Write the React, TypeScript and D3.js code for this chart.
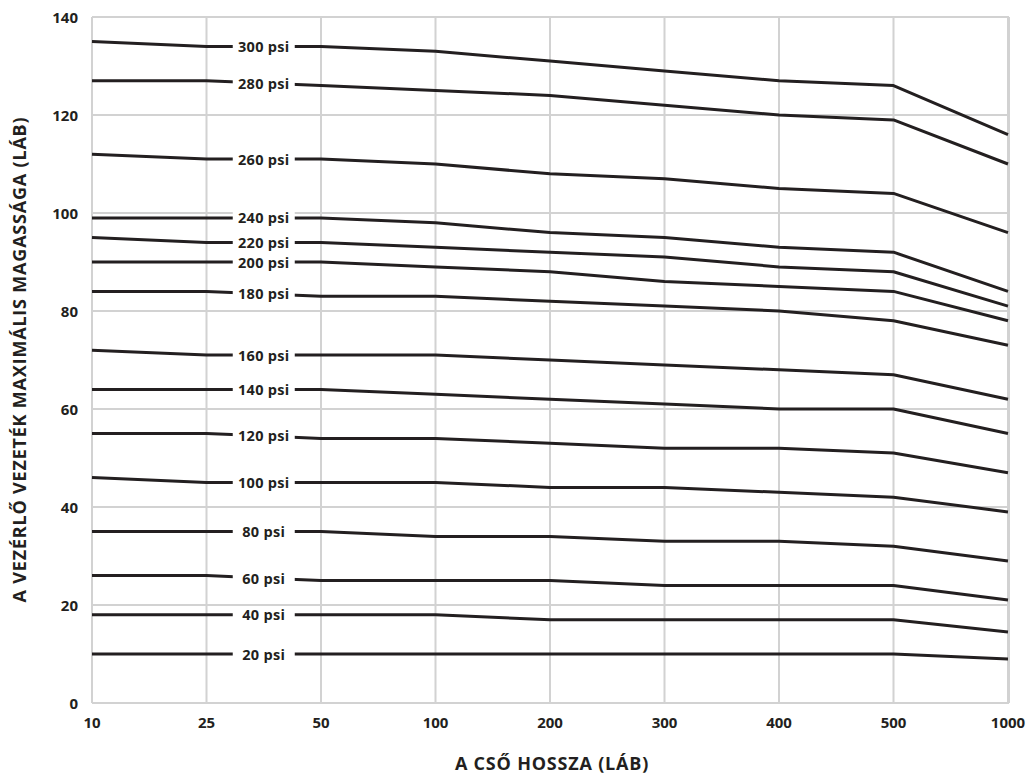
import React from "react";
import * as d3 from "d3";

const categories = ["10", "25", "50", "100", "200", "300", "400", "500", "1000"];
const yTicks = [0, 20, 40, 60, 80, 100, 120, 140];

const psi300 = [135, 134, 134, 133, 131, 129, 127, 126, 116];
const psi280 = [127, 127, 126, 125, 124, 122, 120, 119, 110];
const psi260 = [112, 111, 111, 110, 108, 107, 105, 104, 96];
const psi240 = [99, 99, 99, 98, 96, 95, 93, 92, 84];
const psi220 = [95, 94, 94, 93, 92, 91, 89, 88, 81];
const psi200 = [90, 90, 90, 89, 88, 86, 85, 84, 78];
const psi180 = [84, 84, 83, 83, 82, 81, 80, 78, 73];
const psi160 = [72, 71, 71, 71, 70, 69, 68, 67, 62];
const psi140 = [64, 64, 64, 63, 62, 61, 60, 60, 55];
const psi120 = [55, 55, 54, 54, 53, 52, 52, 51, 47];
const psi100 = [46, 45, 45, 45, 44, 44, 43, 42, 39];
const psi80 = [35, 35, 35, 34, 34, 33, 33, 32, 29];
const psi60 = [26, 26, 25, 25, 25, 24, 24, 24, 21];
const psi40 = [18, 18, 18, 18, 17, 17, 17, 17, 14.5];
const psi20 = [10, 10, 10, 10, 10, 10, 10, 10, 9];

const seriesLabels = ["300 psi", "280 psi", "260 psi", "240 psi", "220 psi", "200 psi", "180 psi", "160 psi", "140 psi", "120 psi", "100 psi", "80 psi", "60 psi", "40 psi", "20 psi"];
const seriesValues = [psi300, psi280, psi260, psi240, psi220, psi200, psi180, psi160, psi140, psi120, psi100, psi80, psi60, psi40, psi20];

const xTitle = "A CSŐ HOSSZA (LÁB)";
const yTitle = "A VEZÉRLŐ VEZETÉK MAXIMÁLIS MAGASSÁGA (LÁB)";

const W = 1031;
const H = 776;
const left = 92;
const right = 1009;
const top = 17;
const bottom = 703;

export default function App() {
  const x = d3.scalePoint<string>().domain(categories).range([left, right - 1]);
  const y = d3.scaleLinear().domain([0, 140]).range([bottom, top]);
  const line = d3
    .line<number>()
    .x((_, i) => x(categories[i]) as number)
    .y((d) => y(d));
  const font = "'Open Sans', 'Noto Sans', sans-serif";
  const grid = "#d2d2d2";
  const ink = "#231f20";

  return (
    <svg width={W} height={H} style={{ position: "absolute", left: 0, top: 0, background: "#fff" }} fontFamily={font}>
      {yTicks.map((t) => (
        <line key={"gy" + t} x1={left} x2={right} y1={y(t)} y2={y(t)} stroke={grid} strokeWidth={2} />
      ))}
      {categories.map((c) => (
        <line key={"gx" + c} x1={x(c)} x2={x(c)} y1={top} y2={bottom} stroke={grid} strokeWidth={2} />
      ))}
      <line x1={right} x2={right} y1={top} y2={bottom} stroke={grid} strokeWidth={2} />
      {seriesValues.map((vals, i) => (
        <path key={"s" + i} d={line(vals) || ""} fill="none" stroke={ink} strokeWidth={3} strokeLinejoin="round" />
      ))}
      {seriesValues.map((vals, i) => {
        const cx = ((x(categories[1]) as number) + (x(categories[2]) as number)) / 2;
        const cy = (y(vals[1]) + y(vals[2])) / 2;
        return (
          <g key={"l" + i}>
            <rect x={cx - 31} y={cy - 8} width={62} height={16} fill="#fff" />
            <text x={cx} y={cy} textAnchor="middle" dominantBaseline="central" fontSize={14.5} fontWeight={700} fill={ink} letterSpacing={0.3}>
              {seriesLabels[i]}
            </text>
          </g>
        );
      })}
      {yTicks.map((t) => (
        <text key={"yt" + t} x={78} y={y(t)} textAnchor="end" fontSize={15} fontWeight={700} fill={ink} dominantBaseline="central">
          {t}
        </text>
      ))}
      {categories.map((c) => (
        <text key={"xt" + c} x={x(c)} y={722} textAnchor="middle" fontSize={15} fontWeight={700} fill={ink} dominantBaseline="central">
          {c}
        </text>
      ))}
      <text x={552} y={763} textAnchor="middle" fontSize={18} fontWeight={700} fill={ink} dominantBaseline="central" letterSpacing={0.8}>
        {xTitle}
      </text>
      <text transform={`translate(19,${(107 + 612) / 2}) rotate(-90)`} textAnchor="middle" fontSize={18} fontWeight={700} fill={ink} dominantBaseline="central" letterSpacing={0.8}>
        {yTitle}
      </text>
    </svg>
  );
}
